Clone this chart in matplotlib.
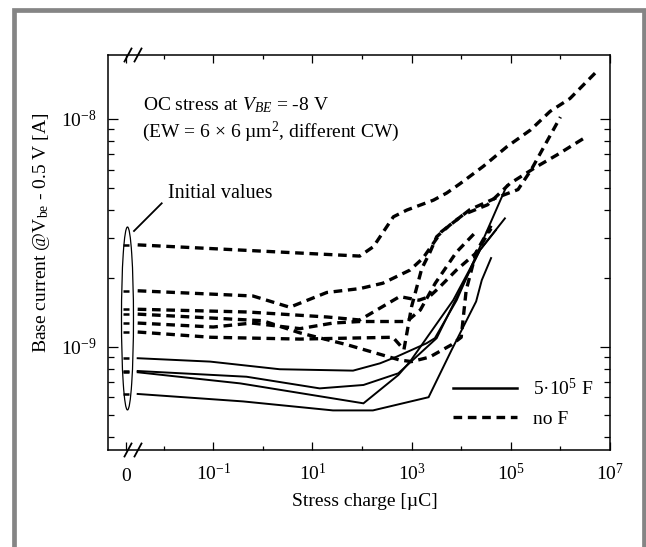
import numpy as np
import matplotlib.pyplot as plt
from matplotlib.patches import Ellipse, Rectangle
from matplotlib.lines import Line2D

plt.rcParams['font.family'] = ['Liberation Serif', 'DejaVu Serif']
plt.rcParams['mathtext.fontset'] = 'custom'
plt.rcParams['mathtext.rm'] = 'Liberation Serif'
plt.rcParams['mathtext.it'] = 'Liberation Serif:italic'

# ---------------- data: stress charge [uC], base current [A] ----------------
# with fluorine implant (5e5 F), solid
s1_x = [0.003, 0.087, 2.2, 66, 230, 500, 2000, 2950, 8100, 8.3e4]
s1_y = [8.9e-10, 8.6e-10, 7.96e-10, 7.85e-10, 8.45e-10, 9.04e-10, 1.035e-9, 1.09e-9,
        1.6e-9, 5.1e-9]
s2_x = [0.003, 0.47, 14, 107, 540, 3200, 2.4e4, 7.6e4]
s2_y = [7.82e-10, 7.38e-10, 6.56e-10, 6.79e-10, 7.64e-10, 1.09e-9, 2.66e-9, 3.66e-9]
s3_x = [0.003, 0.35, 107, 540, 930, 6900, 2.4e4, 5e4]
s3_y = [7.72e-10, 6.9e-10, 5.64e-10, 7.51e-10, 8.6e-10, 1.6e-9, 2.66e-9, 3.25e-9]
s4_x = [0.003, 0.4, 26, 166, 2200, 6400, 2e4, 2.6e4, 4e4]
s4_y = [6.2e-10, 5.75e-10, 5.25e-10, 5.25e-10, 6.0e-10, 9.67e-10, 1.58e-9, 1.96e-9, 2.45e-9]

# without fluorine (no F), dashed
d1_x = [0.003, 90, 170, 430, 800, 2750, 5100, 9500, 2.8e4, 8.3e4, 2.5e5, 6.2e5, 1.56e6, 5e6]
d1_y = [2.8e-9, 2.5e-9, 2.75e-9, 3.72e-9, 3.98e-9, 4.4e-9, 4.73e-9, 5.2e-9, 6.2e-9,
        7.55e-9, 8.95e-9, 1.08e-8, 1.23e-8, 1.59e-8]
d2_x = [0.003, 0.63, 3.5, 19.5, 91, 263, 930, 1700, 4000, 1.5e4, 5e4, 1.4e5, 2.6e5, 1e6]
d2_y = [1.76e-9, 1.67e-9, 1.49e-9, 1.73e-9, 1.8e-9, 1.9e-9, 2.17e-9, 2.45e-9, 3.2e-9,
        4.0e-9, 4.5e-9, 4.9e-9, 6.0e-9, 1.02e-8]
d3_x = [0.003, 0.5, 20, 90, 575, 1400, 2300, 3700, 8000, 2e4, 4e4]
d3_y = [1.46e-9, 1.42e-9, 1.35e-9, 1.31e-9, 1.66e-9, 1.6e-9, 1.66e-9, 1.83e-9, 2.17e-9,
        2.58e-9, 3.3e-9]
d4_x = [0.003, 1, 5.6, 50, 575, 1000, 2300, 6400, 1e4, 1.26e4, 2e4, 4e4]
d4_y = [1.39e-9, 1.3e-9, 1.15e-9, 1.02e-9, 8.74e-10, 8.6e-10, 9.0e-10, 1.02e-9, 1.1e-9,
        1.77e-9, 2.6e-9, 3.4e-9]
d5_x = [0.003, 0.1, 0.6, 5.6, 26, 90, 800, 1500, 3000, 8000, 2e4]
d5_y = [1.27e-9, 1.22e-9, 1.27e-9, 1.2e-9, 1.27e-9, 1.29e-9, 1.29e-9, 1.45e-9, 1.9e-9,
        2.6e-9, 3.2e-9]
d6_x = [0.003, 0.09, 5.6, 420, 700, 1000, 1600, 2350, 3200, 5900, 1.1e4, 3.4e4, 9.5e4,
        3.3e5, 8.5e5, 2.9e6]
d6_y = [1.16e-9, 1.1e-9, 1.08e-9, 1.1e-9, 9.7e-10, 1.5e-9, 2.2e-9, 2.6e-9, 3.04e-9,
        3.42e-9, 3.8e-9, 4.2e-9, 5.2e-9, 6.17e-9, 6.95e-9, 8.2e-9]

solid_curves = [(s1_x, s1_y), (s2_x, s2_y), (s3_x, s3_y), (s4_x, s4_y)]
dashed_curves = [(d1_x, d1_y), (d2_x, d2_y), (d3_x, d3_y), (d4_x, d4_y),
                 (d5_x, d5_y), (d6_x, d6_y)]

x_major = [1e-1, 1e1, 1e3, 1e5, 1e7]
x_major_labels = ['$10^{-1}$', '$10^{1}$', '$10^{3}$', '$10^{5}$', '$10^{7}$']
x_minor = [1e-2, 1e0, 1e2, 1e4, 1e6]
y_major = [1e-9, 1e-8]
y_major_labels = ['$10^{-9}$', '$10^{-8}$']
y_minor = [4e-10, 5e-10, 6e-10, 7e-10, 8e-10, 9e-10,
           2e-9, 3e-9, 4e-9, 5e-9, 6e-9, 7e-9, 8e-9, 9e-9]

# where "0" sits on the broken log axis
X_ZERO = 10 ** -2.76

W, H = 646, 547
fig = plt.figure(figsize=(W / 100, H / 100), dpi=100)


def fx(px):
    return px / W


def fy(py):
    return 1 - py / H


ax = fig.add_axes([fx(108), fy(450), fx(610) - fx(108), fy(55) - fy(450)])
ax.set_xscale('log')
ax.set_yscale('log')
ax.set_xlim(10 ** -3.121, 1e7)
ax.set_ylim(10 ** -9.4537, 10 ** -7.719)

for xs, ys in solid_curves:
    ax.plot(xs, ys, color='black', lw=1.4, solid_joinstyle='miter')
for xs, ys in dashed_curves:
    ax.plot(xs, ys, color='black', lw=2.4, dashes=(2.6, 1.7))

# initial values at zero stress
init_y = [c[1][0] for c in solid_curves + dashed_curves]
ax.plot([X_ZERO] * len(init_y), init_y, ls='none', marker='_', ms=4, mew=1.8,
        color='black')

ax.add_patch(Ellipse((0.0388, 0.333), 0.0239, 0.463, transform=ax.transAxes,
                     fill=False, lw=0.9, ec='black'))

# ticks
ax.set_xticks([X_ZERO] + x_major, ['0'] + x_major_labels)
ax.set_xticks(x_minor, minor=True)
ax.set_yticks(y_major, y_major_labels)
ax.set_yticks(y_minor, minor=True)
ax.xaxis.set_minor_formatter(plt.NullFormatter())
ax.yaxis.set_minor_formatter(plt.NullFormatter())
ax.tick_params(axis='both', which='both', direction='in', top=True, right=True,
               labelsize=14, width=0.9)
ax.tick_params(axis='x', which='major', length=6, pad=22)
ax.tick_params(axis='x', which='minor', length=3)
ax.tick_params(axis='y', which='major', length=7, pad=8)
ax.tick_params(axis='y', which='minor', length=4)
for lbl in ax.get_xticklabels():
    lbl.set_verticalalignment('baseline')
for sp in ax.spines.values():
    sp.set_linewidth(1.1)

# axis break marks
for xb in (128, 138):
    for yb in (55, 450):
        fig.add_artist(Line2D([fx(xb - 3.5), fx(xb + 3.5)], [fy(yb + 6.5), fy(yb - 6.5)],
                              color='black', lw=1.3))

# texts
fig.text(fx(143), fy(110), 'OC stress at $V_{BE}$ = -8 V', fontsize=14,
         va='baseline')
fig.text(fx(142), fy(137), '(EW = 6 \u00d7 6 \u00b5m$^{2}$, different CW)', fontsize=14,
         va='baseline')
fig.text(fx(168), fy(198), 'Initial values', fontsize=14.5, va='baseline')
fig.add_artist(Line2D([fx(161.7), fx(134)], [fy(203.3), fy(231)], color='black', lw=1.3))

fig.text(fx(41.7), fy(233), 'Base current @V$_{\\mathrm{be}}$ - 0.5 V [A]', fontsize=14,
         rotation=90, ha='center', va='center')
fig.text(fx(365), fy(502), 'Stress charge [\u00b5C]', fontsize=14, ha='center',
         va='center')

handles = [Line2D([], [], color='black', lw=1.8),
           Line2D([], [], color='black', lw=2.4, dashes=(2.6, 1.7))]
ax.legend(handles, ['5\u00b710$^{5}$ F', 'no F'], loc='upper left',
          bbox_to_anchor=(fx(453), fy(378)), bbox_transform=fig.transFigure,
          frameon=False, fontsize=14, handlelength=3.3, handletextpad=0.8,
          borderpad=0, borderaxespad=0, labelspacing=0.55)

# grey frame around the whole figure
fig.add_artist(Rectangle((fx(14), fy(600)), fx(643.5) - fx(14), fy(9.5) - fy(600),
                         fill=False, ec='#858585', lw=3.4, transform=fig.transFigure))

fig.savefig('out.png', dpi=100)
